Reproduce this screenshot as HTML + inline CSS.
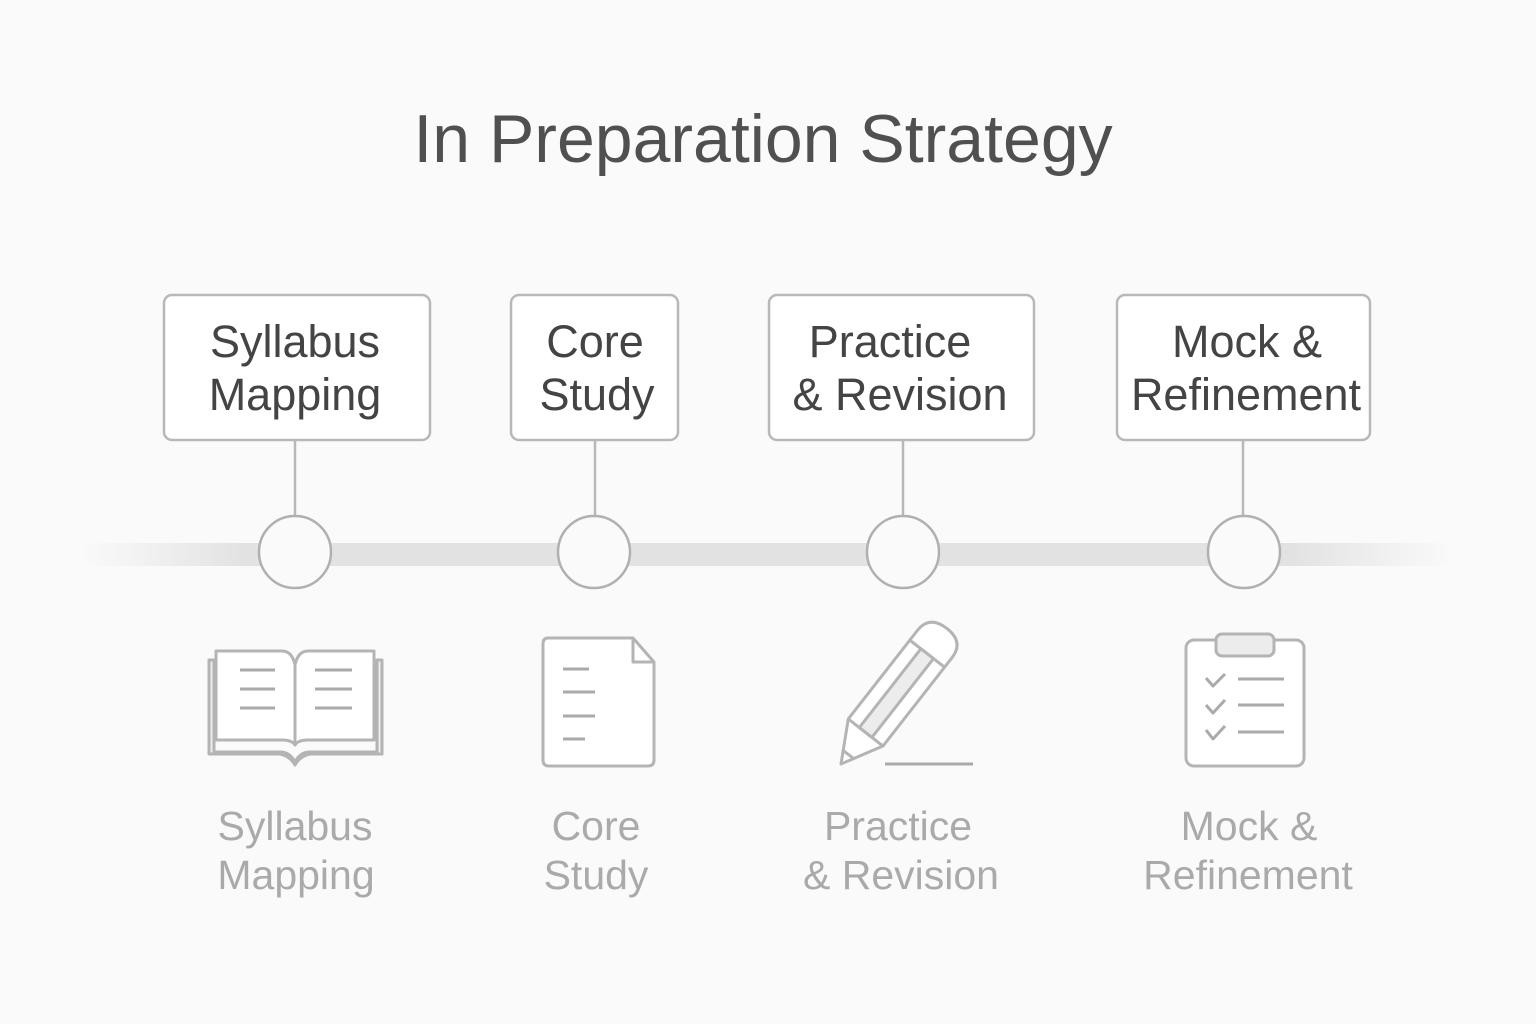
<!DOCTYPE html>
<html><head><meta charset="utf-8"><style>
html,body{margin:0;padding:0;background:#fafafa;}
svg{display:block}
text{font-family:"Liberation Sans",sans-serif;}
</style></head><body>
<svg width="1536" height="1024" viewBox="0 0 1536 1024" xmlns="http://www.w3.org/2000/svg">
<defs>
<linearGradient id="bar" x1="0" x2="1" y1="0" y2="0">
<stop offset="0" stop-color="#e4e4e4" stop-opacity="0"/>
<stop offset="0.12" stop-color="#e2e2e2"/>
<stop offset="0.88" stop-color="#e2e2e2"/>
<stop offset="1" stop-color="#e4e4e4" stop-opacity="0"/>
</linearGradient>
</defs>
<rect width="1536" height="1024" fill="#fafafa"/>
<text x="763" y="162" text-anchor="middle" font-size="68" fill="#505050">In Preparation Strategy</text>

<rect x="80" y="543" width="1375" height="23" fill="url(#bar)"/>

<g fill="#fff" stroke="#b8b8b8" stroke-width="2.5">
<rect x="164" y="295" width="266" height="145" rx="8"/>
<rect x="511" y="295" width="167" height="145" rx="8"/>
<rect x="769" y="295" width="265" height="145" rx="8"/>
<rect x="1117" y="295" width="253" height="145" rx="8"/>
</g>
<g stroke="#b8b8b8" stroke-width="2.5">
<line x1="295" y1="440" x2="295" y2="516"/>
<line x1="595" y1="440" x2="595" y2="516"/>
<line x1="903" y1="440" x2="903" y2="516"/>
<line x1="1243" y1="440" x2="1243" y2="516"/>
</g>
<g fill="#fafafa" stroke="#b0b0b0" stroke-width="2.5">
<circle cx="295" cy="552" r="36"/>
<circle cx="594" cy="552" r="36"/>
<circle cx="903" cy="552" r="36"/>
<circle cx="1244" cy="552" r="36"/>
</g>

<g font-size="45" fill="#444" text-anchor="middle">
<text x="295" y="357">Syllabus</text><text x="295" y="410">Mapping</text>
<text x="595" y="357">Core</text><text x="597" y="410">Study</text>
<text x="890" y="357">Practice</text><text x="900" y="410">&amp; Revision</text>
<text x="1247" y="357">Mock &amp;</text><text x="1246" y="410">Refinement</text>
</g>

<g font-size="41" fill="#aaa" text-anchor="middle">
<text x="295" y="840">Syllabus</text><text x="296" y="889">Mapping</text>
<text x="596" y="840">Core</text><text x="596" y="889">Study</text>
<text x="898" y="840">Practice</text><text x="901" y="889">&amp; Revision</text>
<text x="1249" y="840">Mock &amp;</text><text x="1248" y="889">Refinement</text>
</g>

<!-- book -->
<g fill="none" stroke="#b4b4b4" stroke-width="3" stroke-linejoin="round">
<path d="M209 660 H214 V752 H280 Q290 752 295 762 Q300 752 310 752 H377 V660 H382 V754 H310 Q300 756 295 765 Q290 756 280 754 H209 Z" fill="#ececec"/>
<path d="M216 651 H282 Q292 651 295 665 V745 Q292 740 282 740 H216 Z" fill="#fff"/>
<path d="M374 651 H308 Q298 651 295 665 V745 Q298 740 308 740 H374 Z" fill="#fff"/>
<path d="M240 670 H275 M240 689 H275 M240 708 H275 M315 670 H352 M315 689 H352 M315 708 H352" stroke="#aaa"/>
</g>
<!-- doc -->
<g fill="none" stroke="#b4b4b4" stroke-width="3" stroke-linejoin="round">
<path d="M548 638 H633 L654 662 V760 Q654 766 648 766 H549 Q543 766 543 760 V644 Q543 638 548 638 Z" fill="#fff"/>
<path d="M633 638 V662 H654"/>
<path d="M563 669 H589 M563 692 H595 M563 716 H595 M563 739 H585" stroke="#aaa"/>
</g>
<!-- pencil -->
<g fill="none" stroke="#b4b4b4" stroke-width="3" stroke-linejoin="round" transform="translate(841,764) rotate(-52)">
<path d="M0 0 L40 -22 H152 Q172 -22 172 0 Q172 22 152 22 H40 Z" fill="#fff"/>
<path d="M40 -22 V22"/>
<path d="M140 -22 V22"/>
<path d="M40 -8 H140 V8 H40 Z" fill="#ececec"/>
<path d="M12 -6 L12 6"/>
</g>
<path d="M885 764 H973" stroke="#aaa" stroke-width="3"/>
<!-- clipboard -->
<g fill="none" stroke="#b4b4b4" stroke-width="3" stroke-linejoin="round">
<rect x="1186" y="640" width="118" height="126" rx="8" fill="#fff"/>
<rect x="1216" y="634" width="58" height="22" rx="6" fill="#ececec"/>
<path d="M1206 678 L1213 686 L1225 674 M1206 705 L1213 713 L1225 700 M1206 730 L1213 739 L1225 726" stroke="#aaa"/>
<path d="M1238 679 H1284 M1238 705 H1284 M1238 732 H1284" stroke="#aaa"/>
</g>
</svg>
</body></html>
